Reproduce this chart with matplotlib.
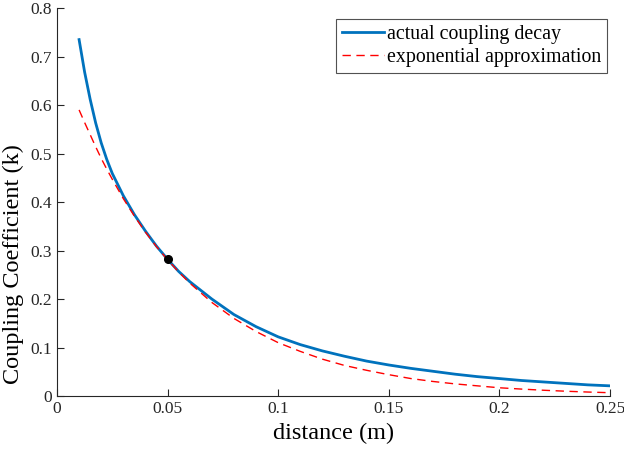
import matplotlib
matplotlib.use("Agg")
import matplotlib.pyplot as plt

plt.rcParams['font.family'] = ['Liberation Serif', 'DejaVu Serif']

# distance (m) and coupling values
dist = [0.010, 0.0125, 0.015, 0.0175, 0.020, 0.0225, 0.025, 0.030, 0.035, 0.040,
        0.045, 0.050, 0.055, 0.060, 0.070, 0.080, 0.090, 0.100, 0.110, 0.120,
        0.130, 0.140, 0.150, 0.160, 0.170, 0.180, 0.190, 0.200, 0.210, 0.220,
        0.230, 0.240, 0.250]

k_actual = [0.735, 0.668, 0.612, 0.563, 0.522, 0.488, 0.459, 0.413, 0.374, 0.340,
            0.309, 0.282, 0.257, 0.236, 0.200, 0.168, 0.143, 0.122, 0.106, 0.093,
            0.082, 0.072, 0.064, 0.057, 0.051, 0.045, 0.040, 0.036, 0.032, 0.029,
            0.026, 0.023, 0.021]

k_exp = [0.590, 0.564, 0.539, 0.514, 0.490, 0.468, 0.447, 0.407, 0.371, 0.338,
         0.308, 0.281, 0.256, 0.233, 0.193, 0.160, 0.133, 0.110, 0.092, 0.076,
         0.063, 0.053, 0.044, 0.036, 0.030, 0.025, 0.021, 0.017, 0.0143, 0.0119,
         0.0099, 0.0082, 0.0068]

ref_x = [0.05]
ref_y = [0.282]

fig = plt.figure(figsize=(6.24, 4.49), dpi=100)
ax = fig.add_axes([0.0913, 0.118, 0.8863, 0.864])

ax.plot(dist, k_actual, color='#0072BD', lw=2.0, label='actual coupling decay')
ax.plot(dist, k_exp, color='#FF0000', lw=1.0, ls=(0, (6, 4)), label='exponential approximation')
ax.plot(ref_x, ref_y, 'o', color='black', ms=5.5, zorder=5)

ax.set_xlim(0, 0.25)
ax.set_ylim(0, 0.8)
ax.set_xticks([0, 0.05, 0.1, 0.15, 0.2, 0.25])
ax.set_xticklabels(['0', '0.05', '0.1', '0.15', '0.2', '0.25'])
ax.set_yticks([0, 0.1, 0.2, 0.3, 0.4, 0.5, 0.6, 0.7, 0.8])
ax.set_yticklabels(['0', '0.1', '0.2', '0.3', '0.4', '0.5', '0.6', '0.7', '0.8'])
ax.tick_params(direction='in', length=5, width=0.8, labelsize=12.5, colors='#262626')
for s in ['top', 'right']:
    ax.spines[s].set_visible(False)
for s in ['left', 'bottom']:
    ax.spines[s].set_color('#262626')
    ax.spines[s].set_linewidth(0.8)

ax.set_xlabel('distance (m)', fontsize=17.5, labelpad=4)
ax.set_ylabel('Coupling Coefficient (k)', fontsize=17.5)
ax.yaxis.set_label_coords(-0.06, 0.34)

leg = ax.legend(loc='upper right', bbox_to_anchor=(0.9946, 0.972), fontsize=14.3,
                frameon=True, fancybox=False, edgecolor='#262626',
                handlelength=2.1, handletextpad=0.15, borderpad=0.3, labelspacing=0.2,
                borderaxespad=0.0)
leg.get_frame().set_linewidth(0.8)

fig.savefig('out.png', dpi=100)
